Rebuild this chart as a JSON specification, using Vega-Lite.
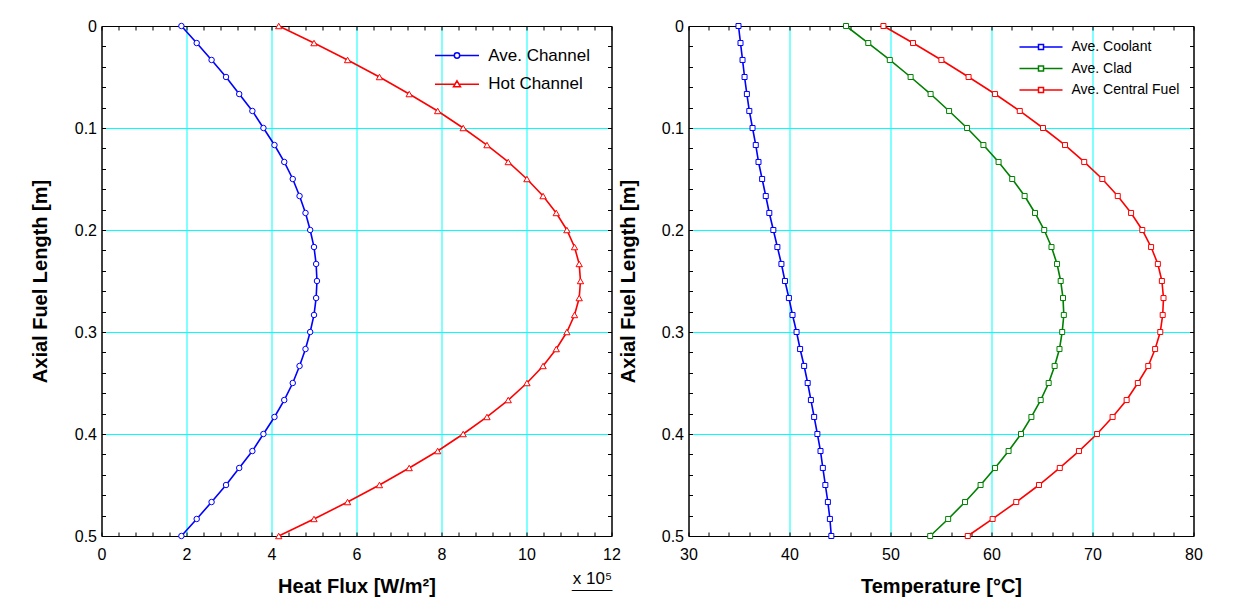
{
  "$schema": "https://vega.github.io/schema/vega-lite/v6.json",
  "background": "white",
  "padding": {"left": 29.5, "top": 17, "right": 5, "bottom": 5},
  "bounds": "flush",
  "spacing": 77,
  "datasets": {
    "flux": [
      {"series":"Ave. Channel","z":0,"q":1.88},{"series":"Ave. Channel","z":0.0167,"q":2.24},{"series":"Ave. Channel","z":0.0333,"q":2.59},{"series":"Ave. Channel","z":0.05,"q":2.93},{"series":"Ave. Channel","z":0.0667,"q":3.24},{"series":"Ave. Channel","z":0.0833,"q":3.55},{"series":"Ave. Channel","z":0.1,"q":3.81},{"series":"Ave. Channel","z":0.1167,"q":4.07},{"series":"Ave. Channel","z":0.1333,"q":4.30},{"series":"Ave. Channel","z":0.15,"q":4.50},{"series":"Ave. Channel","z":0.1667,"q":4.66},{"series":"Ave. Channel","z":0.1833,"q":4.80},{"series":"Ave. Channel","z":0.2,"q":4.91},{"series":"Ave. Channel","z":0.2167,"q":5.00},{"series":"Ave. Channel","z":0.2333,"q":5.05},{"series":"Ave. Channel","z":0.25,"q":5.07},{"series":"Ave. Channel","z":0.2667,"q":5.05},{"series":"Ave. Channel","z":0.2833,"q":5.00},{"series":"Ave. Channel","z":0.3,"q":4.91},{"series":"Ave. Channel","z":0.3167,"q":4.80},{"series":"Ave. Channel","z":0.3333,"q":4.66},{"series":"Ave. Channel","z":0.35,"q":4.50},{"series":"Ave. Channel","z":0.3667,"q":4.30},{"series":"Ave. Channel","z":0.3833,"q":4.07},{"series":"Ave. Channel","z":0.4,"q":3.81},{"series":"Ave. Channel","z":0.4167,"q":3.55},{"series":"Ave. Channel","z":0.4333,"q":3.24},{"series":"Ave. Channel","z":0.45,"q":2.93},{"series":"Ave. Channel","z":0.4667,"q":2.59},{"series":"Ave. Channel","z":0.4833,"q":2.24},{"series":"Ave. Channel","z":0.5,"q":1.88},
      {"series":"Hot Channel","z":0,"q":4.17},{"series":"Hot Channel","z":0.0167,"q":5.00},{"series":"Hot Channel","z":0.0333,"q":5.79},{"series":"Hot Channel","z":0.05,"q":6.54},{"series":"Hot Channel","z":0.0667,"q":7.24},{"series":"Hot Channel","z":0.0833,"q":7.91},{"series":"Hot Channel","z":0.1,"q":8.51},{"series":"Hot Channel","z":0.1167,"q":9.07},{"series":"Hot Channel","z":0.1333,"q":9.57},{"series":"Hot Channel","z":0.15,"q":10.01},{"series":"Hot Channel","z":0.1667,"q":10.39},{"series":"Hot Channel","z":0.1833,"q":10.70},{"series":"Hot Channel","z":0.2,"q":10.95},{"series":"Hot Channel","z":0.2167,"q":11.13},{"series":"Hot Channel","z":0.2333,"q":11.24},{"series":"Hot Channel","z":0.25,"q":11.27},{"series":"Hot Channel","z":0.2667,"q":11.24},{"series":"Hot Channel","z":0.2833,"q":11.13},{"series":"Hot Channel","z":0.3,"q":10.95},{"series":"Hot Channel","z":0.3167,"q":10.70},{"series":"Hot Channel","z":0.3333,"q":10.39},{"series":"Hot Channel","z":0.35,"q":10.01},{"series":"Hot Channel","z":0.3667,"q":9.57},{"series":"Hot Channel","z":0.3833,"q":9.07},{"series":"Hot Channel","z":0.4,"q":8.51},{"series":"Hot Channel","z":0.4167,"q":7.91},{"series":"Hot Channel","z":0.4333,"q":7.24},{"series":"Hot Channel","z":0.45,"q":6.54},{"series":"Hot Channel","z":0.4667,"q":5.79},{"series":"Hot Channel","z":0.4833,"q":5.00},{"series":"Hot Channel","z":0.5,"q":4.17}
    ],
    "temp": [
      {"series":"Ave. Coolant","z":0,"t":34.95},{"series":"Ave. Coolant","z":0.0167,"t":35.15},{"series":"Ave. Coolant","z":0.0333,"t":35.35},{"series":"Ave. Coolant","z":0.05,"t":35.55},{"series":"Ave. Coolant","z":0.0667,"t":35.78},{"series":"Ave. Coolant","z":0.0833,"t":36.02},{"series":"Ave. Coolant","z":0.1,"t":36.34},{"series":"Ave. Coolant","z":0.1167,"t":36.66},{"series":"Ave. Coolant","z":0.1333,"t":36.93},{"series":"Ave. Coolant","z":0.15,"t":37.29},{"series":"Ave. Coolant","z":0.1667,"t":37.65},{"series":"Ave. Coolant","z":0.1833,"t":38.0},{"series":"Ave. Coolant","z":0.2,"t":38.4},{"series":"Ave. Coolant","z":0.2167,"t":38.8},{"series":"Ave. Coolant","z":0.2333,"t":39.2},{"series":"Ave. Coolant","z":0.25,"t":39.55},{"series":"Ave. Coolant","z":0.2667,"t":39.94},{"series":"Ave. Coolant","z":0.2833,"t":40.3},{"series":"Ave. Coolant","z":0.3,"t":40.7},{"series":"Ave. Coolant","z":0.3167,"t":41.05},{"series":"Ave. Coolant","z":0.3333,"t":41.45},{"series":"Ave. Coolant","z":0.35,"t":41.8},{"series":"Ave. Coolant","z":0.3667,"t":42.12},{"series":"Ave. Coolant","z":0.3833,"t":42.44},{"series":"Ave. Coolant","z":0.4,"t":42.76},{"series":"Ave. Coolant","z":0.4167,"t":43.07},{"series":"Ave. Coolant","z":0.4333,"t":43.3},{"series":"Ave. Coolant","z":0.45,"t":43.55},{"series":"Ave. Coolant","z":0.4667,"t":43.8},{"series":"Ave. Coolant","z":0.4833,"t":44.0},{"series":"Ave. Coolant","z":0.5,"t":44.14},
      {"series":"Ave. Clad","z":0,"t":45.6},{"series":"Ave. Clad","z":0.0167,"t":47.8},{"series":"Ave. Clad","z":0.0333,"t":49.93},{"series":"Ave. Clad","z":0.05,"t":51.99},{"series":"Ave. Clad","z":0.0667,"t":53.97},{"series":"Ave. Clad","z":0.0833,"t":55.8},{"series":"Ave. Clad","z":0.1,"t":57.58},{"series":"Ave. Clad","z":0.1167,"t":59.2},{"series":"Ave. Clad","z":0.1333,"t":60.7},{"series":"Ave. Clad","z":0.15,"t":62.05},{"series":"Ave. Clad","z":0.1667,"t":63.28},{"series":"Ave. Clad","z":0.1833,"t":64.31},{"series":"Ave. Clad","z":0.2,"t":65.22},{"series":"Ave. Clad","z":0.2167,"t":65.94},{"series":"Ave. Clad","z":0.2333,"t":66.49},{"series":"Ave. Clad","z":0.25,"t":66.85},{"series":"Ave. Clad","z":0.2667,"t":67.08},{"series":"Ave. Clad","z":0.2833,"t":67.16},{"series":"Ave. Clad","z":0.3,"t":67.0},{"series":"Ave. Clad","z":0.3167,"t":66.73},{"series":"Ave. Clad","z":0.3333,"t":66.25},{"series":"Ave. Clad","z":0.35,"t":65.66},{"series":"Ave. Clad","z":0.3667,"t":64.87},{"series":"Ave. Clad","z":0.3833,"t":63.95},{"series":"Ave. Clad","z":0.4,"t":62.92},{"series":"Ave. Clad","z":0.4167,"t":61.69},{"series":"Ave. Clad","z":0.4333,"t":60.35},{"series":"Ave. Clad","z":0.45,"t":58.92},{"series":"Ave. Clad","z":0.4667,"t":57.38},{"series":"Ave. Clad","z":0.4833,"t":55.71},{"series":"Ave. Clad","z":0.5,"t":53.93},
      {"series":"Ave. Central Fuel","z":0,"t":49.3},{"series":"Ave. Central Fuel","z":0.0167,"t":52.23},{"series":"Ave. Central Fuel","z":0.0333,"t":55.04},{"series":"Ave. Central Fuel","z":0.05,"t":57.73},{"series":"Ave. Central Fuel","z":0.0667,"t":60.35},{"series":"Ave. Central Fuel","z":0.0833,"t":62.8},{"series":"Ave. Central Fuel","z":0.1,"t":65.1},{"series":"Ave. Central Fuel","z":0.1167,"t":67.28},{"series":"Ave. Central Fuel","z":0.1333,"t":69.18},{"series":"Ave. Central Fuel","z":0.15,"t":70.97},{"series":"Ave. Central Fuel","z":0.1667,"t":72.5},{"series":"Ave. Central Fuel","z":0.1833,"t":73.82},{"series":"Ave. Central Fuel","z":0.2,"t":74.93},{"series":"Ave. Central Fuel","z":0.2167,"t":75.8},{"series":"Ave. Central Fuel","z":0.2333,"t":76.47},{"series":"Ave. Central Fuel","z":0.25,"t":76.87},{"series":"Ave. Central Fuel","z":0.2667,"t":77.03},{"series":"Ave. Central Fuel","z":0.2833,"t":76.95},{"series":"Ave. Central Fuel","z":0.3,"t":76.71},{"series":"Ave. Central Fuel","z":0.3167,"t":76.2},{"series":"Ave. Central Fuel","z":0.3333,"t":75.52},{"series":"Ave. Central Fuel","z":0.35,"t":74.49},{"series":"Ave. Central Fuel","z":0.3667,"t":73.38},{"series":"Ave. Central Fuel","z":0.3833,"t":71.99},{"series":"Ave. Central Fuel","z":0.4,"t":70.45},{"series":"Ave. Central Fuel","z":0.4167,"t":68.66},{"series":"Ave. Central Fuel","z":0.4333,"t":66.76},{"series":"Ave. Central Fuel","z":0.45,"t":64.7},{"series":"Ave. Central Fuel","z":0.4667,"t":62.45},{"series":"Ave. Central Fuel","z":0.4833,"t":60.11},{"series":"Ave. Central Fuel","z":0.5,"t":57.65}
    ]
  },
  "hconcat": [
    {
      "width": 510,
      "height": 510,
      "data": {"name": "flux"},
      "layer": [
        {
          "transform": [{"filter": "datum.series == 'Ave. Channel'"}],
          "mark": {"type": "line", "color": "#0000FF", "strokeWidth": 1.6, "point": {"shape": "circle", "filled": false, "fill": "white", "stroke": "#0000FF", "strokeWidth": 1, "size": 30}},
          "encoding": {
            "x": {"field": "q", "type": "quantitative", "scale": {"domain": [0, 12], "nice": false, "zero": false},
              "axis": {"orient": "bottom", "values": [0,0.4,0.8,1.2,1.6,2,2.4,2.8,3.2,3.6,4,4.4,4.8,5.2,5.6,6,6.4,6.8,7.2,7.6,8,8.4,8.8,9.2,9.6,10,10.4,10.8,11.2,11.6,12],
                "labelExpr": "indexof([0,2,4,6,8,10,12], datum.value) >= 0 ? format(datum.value, '~g') : ''",
                "tickSize": -4, "labelPadding": 14, "grid": false, "title": "Heat Flux [W/m²]", "titlePadding": 14}},
            "y": {"field": "z", "type": "quantitative", "scale": {"domain": [0, 0.5], "reverse": true, "nice": false, "zero": false},
              "axis": {"orient": "left", "values": [0,0.02,0.04,0.06,0.08,0.1,0.12,0.14,0.16,0.18,0.2,0.22,0.24,0.26,0.28,0.3,0.32,0.34,0.36,0.38,0.4,0.42,0.44,0.46,0.48,0.5],
                "labelExpr": "indexof([0,0.1,0.2,0.3,0.4,0.5], datum.value) >= 0 ? format(datum.value, '~g') : ''",
                "tickSize": -4, "labelPadding": 9, "grid": false, "title": "Axial Fuel Length [m]", "titlePadding": 24}},
            "order": {"field": "z", "type": "quantitative"}
          }
        },
        {
          "transform": [{"filter": "datum.series == 'Hot Channel'"}],
          "mark": {"type": "line", "color": "#FF0000", "strokeWidth": 1.6, "point": {"shape": "triangle-up", "filled": false, "fill": "white", "stroke": "#FF0000", "strokeWidth": 1, "size": 40}},
          "encoding": {
            "x": {"field": "q", "type": "quantitative",
              "axis": {"orient": "top", "values": [0,0.4,0.8,1.2,1.6,2,2.4,2.8,3.2,3.6,4,4.4,4.8,5.2,5.6,6,6.4,6.8,7.2,7.6,8,8.4,8.8,9.2,9.6,10,10.4,10.8,11.2,11.6,12],
                "labels": false, "tickSize": -4, "grid": false, "title": null}},
            "y": {"field": "z", "type": "quantitative",
              "axis": {"orient": "right", "values": [0,0.02,0.04,0.06,0.08,0.1,0.12,0.14,0.16,0.18,0.2,0.22,0.24,0.26,0.28,0.3,0.32,0.34,0.36,0.38,0.4,0.42,0.44,0.46,0.48,0.5],
                "labels": false, "tickSize": -4, "grid": false, "title": null}},
            "order": {"field": "z", "type": "quantitative"}
          }
        },
        {
          "mark": {"type": "point", "opacity": 0, "filled": false, "strokeWidth": 1.5},
          "encoding": {
            "x": {"field": "q", "type": "quantitative",
              "axis": {"orient": "bottom", "values": [2,4,6,8,10], "grid": true, "ticks": false, "labels": false, "domain": false,
                "title": ["x 10⁵", "‾‾‾‾‾‾‾"], "titleAnchor": "end", "titleAlign": "right", "titleFontSize": 17, "titleFontWeight": "normal", "titlePadding": 34, "titleLineHeight": 19}},
            "y": {"field": "z", "type": "quantitative",
              "axis": {"orient": "left", "values": [0.1,0.2,0.3,0.4], "grid": true, "ticks": false, "labels": false, "domain": false, "title": null}},
            "color": {"field": "series", "type": "nominal", "scale": {"domain": ["Ave. Channel", "Hot Channel"], "range": ["#0000FF", "#FF0000"]},
              "legend": {"title": null, "orient": "none", "legendX": 347, "legendY": 21, "labelFontSize": 17, "symbolSize": 215, "symbolStrokeWidth": 1.5, "symbolOpacity": 1, "labelOffset": 22.7, "rowPadding": 10.7, "padding": 0}},
            "shape": {"field": "series", "type": "nominal", "scale": {"domain": ["Ave. Channel", "Hot Channel"], "range": ["M-3,0H-0.37M0.37,0H3M-0.37,0A0.37,0.37,0,1,1,0.37,0A0.37,0.37,0,1,1,-0.37,0Z", "M-3,0H-0.28M0.28,0H3M0,-0.47L0.48,0.35L-0.48,0.35Z"]},
              "legend": {"title": null, "orient": "none", "legendX": 347, "legendY": 21, "labelFontSize": 17, "symbolSize": 215, "symbolStrokeWidth": 1.5, "symbolOpacity": 1, "labelOffset": 22.7, "rowPadding": 10.7, "padding": 0}}
          }
        }
      ],
      "resolve": {"axis": {"x": "independent", "y": "independent"}}
    },
    {
      "width": 505,
      "height": 510,
      "data": {"name": "temp"},
      "layer": [
        {
          "transform": [{"filter": "datum.series == 'Ave. Coolant'"}],
          "mark": {"type": "line", "color": "#0000FF", "strokeWidth": 1.6, "point": {"shape": "square", "filled": false, "fill": "white", "stroke": "#0000FF", "strokeWidth": 1, "size": 25}},
          "encoding": {
            "x": {"field": "t", "type": "quantitative", "scale": {"domain": [30, 80], "nice": false, "zero": false},
              "axis": {"orient": "bottom", "values": [30,32,34,36,38,40,42,44,46,48,50,52,54,56,58,60,62,64,66,68,70,72,74,76,78,80],
                "labelExpr": "indexof([30,40,50,60,70,80], datum.value) >= 0 ? format(datum.value, '~g') : ''",
                "tickSize": -4, "labelPadding": 14, "grid": false, "title": "Temperature [°C]", "titlePadding": 14}},
            "y": {"field": "z", "type": "quantitative", "scale": {"domain": [0, 0.5], "reverse": true, "nice": false, "zero": false},
              "axis": {"orient": "left", "values": [0,0.02,0.04,0.06,0.08,0.1,0.12,0.14,0.16,0.18,0.2,0.22,0.24,0.26,0.28,0.3,0.32,0.34,0.36,0.38,0.4,0.42,0.44,0.46,0.48,0.5],
                "labelExpr": "indexof([0,0.1,0.2,0.3,0.4,0.5], datum.value) >= 0 ? format(datum.value, '~g') : ''",
                "tickSize": -4, "labelPadding": 9, "grid": false, "title": "Axial Fuel Length [m]", "titlePadding": 23}},
            "order": {"field": "z", "type": "quantitative"}
          }
        },
        {
          "transform": [{"filter": "datum.series == 'Ave. Clad'"}],
          "mark": {"type": "line", "color": "#008000", "strokeWidth": 1.6, "point": {"shape": "square", "filled": false, "fill": "white", "stroke": "#008000", "strokeWidth": 1, "size": 25}},
          "encoding": {
            "x": {"field": "t", "type": "quantitative",
              "axis": {"orient": "top", "values": [30,32,34,36,38,40,42,44,46,48,50,52,54,56,58,60,62,64,66,68,70,72,74,76,78,80],
                "labels": false, "tickSize": -4, "grid": false, "title": null}},
            "y": {"field": "z", "type": "quantitative",
              "axis": {"orient": "right", "values": [0,0.02,0.04,0.06,0.08,0.1,0.12,0.14,0.16,0.18,0.2,0.22,0.24,0.26,0.28,0.3,0.32,0.34,0.36,0.38,0.4,0.42,0.44,0.46,0.48,0.5],
                "labels": false, "tickSize": -4, "grid": false, "title": null}},
            "order": {"field": "z", "type": "quantitative"}
          }
        },
        {
          "transform": [{"filter": "datum.series == 'Ave. Central Fuel'"}],
          "mark": {"type": "line", "color": "#FF0000", "strokeWidth": 1.6, "point": {"shape": "square", "filled": false, "fill": "white", "stroke": "#FF0000", "strokeWidth": 1, "size": 25}},
          "encoding": {
            "x": {"field": "t", "type": "quantitative", "axis": null},
            "y": {"field": "z", "type": "quantitative", "axis": null},
            "order": {"field": "z", "type": "quantitative"}
          }
        },
        {
          "mark": {"type": "point", "opacity": 0, "filled": false, "strokeWidth": 1.5},
          "encoding": {
            "x": {"field": "t", "type": "quantitative",
              "axis": {"orient": "bottom", "values": [40,50,60,70], "grid": true, "ticks": false, "labels": false, "domain": false, "title": null}},
            "y": {"field": "z", "type": "quantitative",
              "axis": {"orient": "left", "values": [0.1,0.2,0.3,0.4], "grid": true, "ticks": false, "labels": false, "domain": false, "title": null}},
            "color": {"field": "series", "type": "nominal", "scale": {"domain": ["Ave. Coolant", "Ave. Clad", "Ave. Central Fuel"], "range": ["#0000FF", "#008000", "#FF0000"]},
              "legend": {"title": null, "orient": "none", "legendX": 344.5, "legendY": 13, "labelFontSize": 14, "symbolSize": 206, "symbolStrokeWidth": 1.5, "symbolOpacity": 1, "labelOffset": 22.4, "rowPadding": 6.5, "padding": 0}},
            "shape": {"field": "series", "type": "nominal", "scale": {"domain": ["Ave. Coolant", "Ave. Clad", "Ave. Central Fuel"], "range": ["M-3,0H-0.35M0.35,0H3M-0.35,-0.35H0.35V0.35H-0.35Z", "M-3,0H-0.35M0.35,0H3M-0.35,-0.35H0.35V0.35H-0.35Z", "M-3,0H-0.35M0.35,0H3M-0.35,-0.35H0.35V0.35H-0.35Z"]},
              "legend": {"title": null, "orient": "none", "legendX": 344.5, "legendY": 13, "labelFontSize": 14, "symbolSize": 206, "symbolStrokeWidth": 1.5, "symbolOpacity": 1, "labelOffset": 22.4, "rowPadding": 6.5, "padding": 0}}
          }
        }
      ],
      "resolve": {"axis": {"x": "independent", "y": "independent"}}
    }
  ],
  "resolve": {"scale": {"color": "independent", "shape": "independent", "x": "independent", "y": "independent"}, "legend": {"color": "independent", "shape": "independent"}},
  "config": {
    "font": "Liberation Sans",
    "view": {"stroke": "black", "strokeWidth": 1},
    "axis": {"labelFont": "Liberation Sans", "labelFontSize": 16, "labelColor": "black", "titleFont": "Liberation Sans", "titleFontSize": 20, "titleFontWeight": "bold", "titleColor": "black", "domainColor": "black", "domainWidth": 1, "tickColor": "black", "tickWidth": 1, "gridColor": "#00FFFF", "gridOpacity": 1, "gridWidth": 1, "labelOverlap": false, "labelFlush": false},
    "legend": {"labelFont": "Liberation Sans", "labelColor": "black", "labelLimit": 300}
  }
}
